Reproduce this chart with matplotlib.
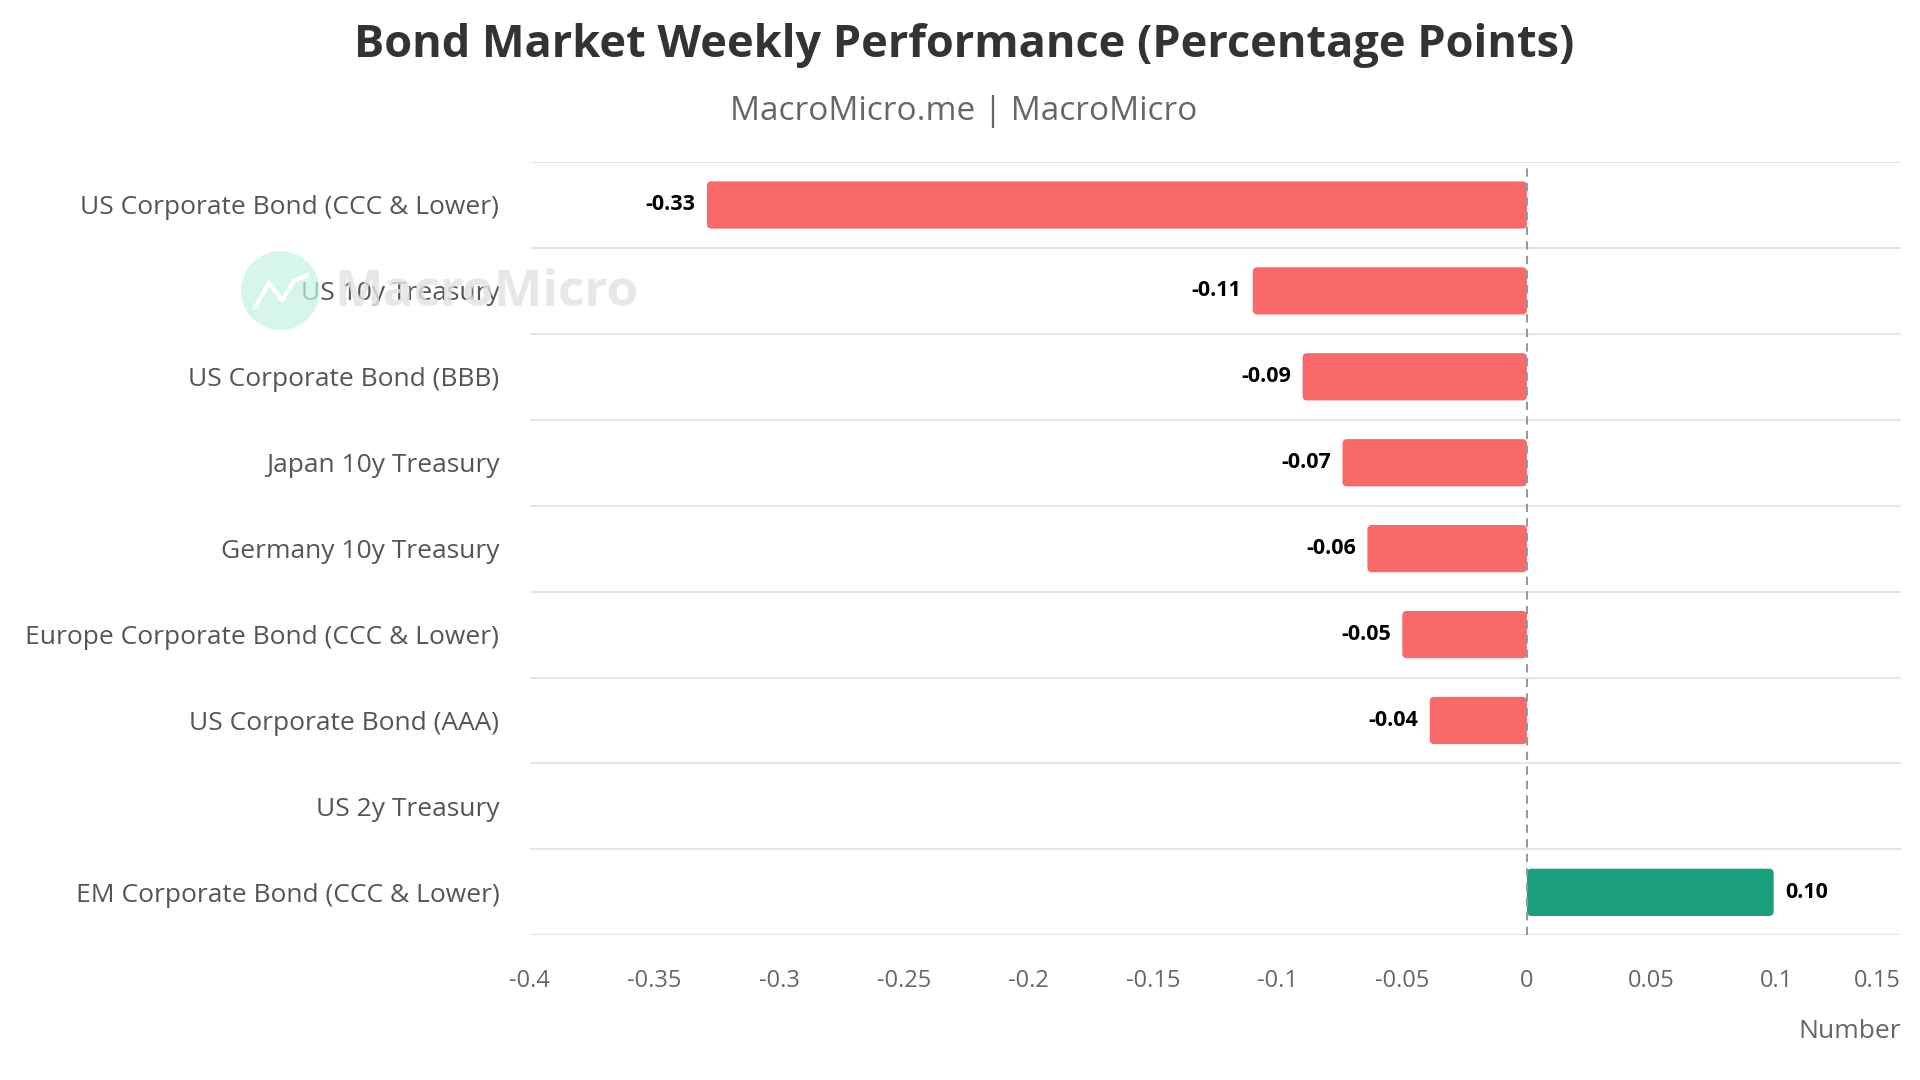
import matplotlib.pyplot as plt
from matplotlib.patches import Ellipse, FancyBboxPatch

# 數據
categories = ["US Corporate Bond (CCC & Lower)", "US 10y Treasury", "US Corporate Bond (BBB)",
              "Japan 10y Treasury", "Germany 10y Treasury", "Europe Corporate Bond (CCC & Lower)",
              "US Corporate Bond (AAA)", "US 2y Treasury", "EM Corporate Bond (CCC & Lower)"]
values = [-0.329, -0.110, -0.090, -0.074, -0.064, -0.050, -0.039, 0.0, 0.099]
xticks = [-0.4, -0.35, -0.3, -0.25, -0.2, -0.15, -0.1, -0.05, 0, 0.05, 0.1, 0.15]
xtick_labels = ["-0.4", "-0.35", "-0.3", "-0.25", "-0.2", "-0.15", "-0.1", "-0.05", "0", "0.05", "0.1", "0.15"]

plt.rcParams['font.family'] = ['Open Sans', 'DejaVu Sans']

fig = plt.figure(figsize=(19.2, 10.8), dpi=100)
ax = fig.add_axes([0.276, 0.134, 0.714, 0.716])

pos = list(range(len(categories)))
colors = ["#1a9e7d" if v > 0 else "#f86a6a" for v in values]
bars = ax.barh(pos, values, height=0.55, color=colors, zorder=2)

# 圓角長條
for b in bars:
    x, y = b.get_x(), b.get_y()
    w, h = b.get_width(), b.get_height()
    if w == 0:
        continue
    x0, w0 = (x, w) if w > 0 else (x + w, -w)
    p = FancyBboxPatch((x0, y), w0, h, boxstyle="round,pad=0,rounding_size=0.0018",
                       mutation_aspect=30, facecolor=b.get_facecolor(), edgecolor="none", zorder=2)
    ax.add_patch(p)
    b.set_visible(False)

# 數值標籤
for p, v in zip(pos, values):
    if v == 0:
        continue
    if v < 0:
        ax.text(v - 0.0045, p, "%.2f" % v, ha="right", va="center", fontsize=15.5, fontweight="bold", color="black")
    else:
        ax.text(v + 0.0045, p, "%.2f" % v, ha="left", va="center", fontsize=15.5, fontweight="bold", color="black")

ax.set_xlim(-0.4, 0.15)
ax.set_ylim(len(categories) - 0.5, -0.5)
ax.set_yticks(pos)
ax.set_yticklabels(categories, fontsize=19, color="#555555")
ax.set_xticks(xticks)
ax.set_xticklabels(xtick_labels, fontsize=17, color="#666666")
ax.get_xticklabels()[-1].set_horizontalalignment("right")
ax.tick_params(axis="both", length=0)
ax.tick_params(axis="y", pad=22)
ax.tick_params(axis="x", pad=24)

# 格線
for b in range(len(categories) + 1):
    ax.axhline(b - 0.5, color="#e6e6e6", lw=1.5, zorder=1)
ax.axvline(0, color="#999999", lw=1.5, ls=(0, (4, 3)), zorder=3)
for s in ax.spines.values():
    s.set_visible(False)

ax.text(1.0, -0.125, "Number", transform=ax.transAxes, ha="right", va="center", fontsize=19, color="#666666")

fig.text(0.502, 0.958, "Bond Market Weekly Performance (Percentage Points)", ha="center", va="center",
         fontsize=32.5, fontweight="bold", color="#333333")
fig.text(0.502, 0.897, "MacroMicro.me | MacroMicro", ha="center", va="center", fontsize=24, color="#666666")

# 浮水印
fig.patches.append(Ellipse((0.146, 0.731), 0.041, 0.073, transform=fig.transFigure,
                           facecolor="#c4f2e6", alpha=0.7, edgecolor="none", zorder=0))
fig.lines.append(plt.Line2D([0.133, 0.140, 0.147, 0.153, 0.160], [0.716, 0.738, 0.722, 0.740, 0.745],
                            transform=fig.transFigure, color="white", lw=3, zorder=1))
fig.text(0.174, 0.729, "MacroMicro", ha="left", va="center", fontsize=37, fontweight="bold",
         color="#e2e2e2", alpha=0.8, zorder=0)

plt.savefig("out.png", dpi=100)
